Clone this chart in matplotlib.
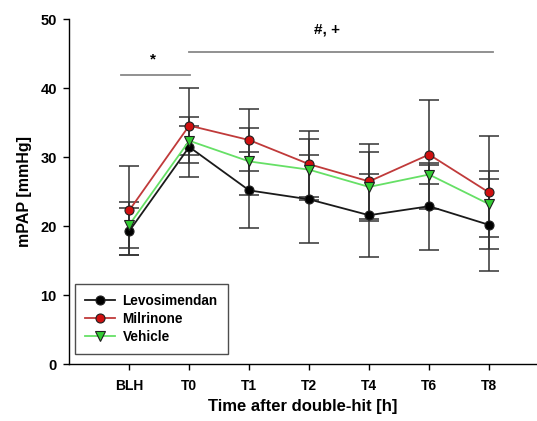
import matplotlib
matplotlib.use("Agg")
import matplotlib.pyplot as plt
import numpy as np

plt.rcParams['font.family'] = ['Liberation Sans', 'DejaVu Sans']

timepoints = ["BLH", "T0", "T1", "T2", "T4", "T6", "T8"]

levo_mean = [19.3, 31.5, 25.2, 23.9, 21.6, 22.9, 20.2]
levo_sd = [3.4, 4.3, 5.5, 6.4, 6.0, 6.3, 6.7]

milr_mean = [22.3, 34.6, 32.5, 29.0, 26.5, 30.4, 24.9]
milr_sd = [6.5, 5.4, 4.5, 4.8, 5.4, 7.9, 8.2]

veh_mean = [20.2, 32.4, 29.4, 28.2, 25.7, 27.5, 23.2]
veh_sd = [3.3, 2.1, 4.8, 4.4, 5.0, 1.4, 4.8]

fig = plt.figure(figsize=(5.37, 4.21), dpi=100)
ax = fig.add_axes([0.129, 0.135, 0.871, 0.819])

x = np.arange(len(timepoints))

series = [
    ("Levosimendan", levo_mean, levo_sd, "#1a1a1a", "o", "#000000"),
    ("Milrinone", milr_mean, milr_sd, "#c03a3a", "o", "#d01010"),
    ("Vehicle", veh_mean, veh_sd, "#66e066", "v", "#33cc33"),
]

for name, m, s, lc, mk, fc in series:
    ax.errorbar(x, m, yerr=s, fmt='none', ecolor='#333333', elinewidth=1.1,
                capsize=7, capthick=1.1, zorder=1)

for name, m, s, lc, mk, fc in series:
    ax.plot(x, m, color=lc, lw=1.3, marker=mk, markersize=6.5,
            markerfacecolor=fc, markeredgecolor='#202020', markeredgewidth=0.8,
            label=name, zorder=3)

# significance lines
ax.plot([-0.13, 1.01], [42.0, 42.0], color='#888888', lw=1.3, clip_on=False)
ax.text(0.4, 44.2, "*", ha='center', va='center', fontsize=11, fontweight='bold')
ax.plot([1.0, 6.07], [45.2, 45.2], color='#888888', lw=1.3, clip_on=False)
ax.text(3.29, 48.5, "#, +", ha='center', va='center', fontsize=11, fontweight='bold')

ax.set_xlim(-1, 6.8)
ax.set_ylim(0, 50)
ax.set_xticks(x)
ax.set_xticklabels(timepoints, fontweight='bold', fontsize=10)
ax.set_yticks([0, 10, 20, 30, 40, 50])
ax.set_yticklabels(["0", "10", "20", "30", "40", "50"], fontweight='bold', fontsize=10.5)
ax.tick_params(direction='out', length=4, width=1)
ax.tick_params(axis='y', pad=5)
ax.tick_params(axis='x', pad=7)

for sp in ['top', 'right']:
    ax.spines[sp].set_visible(False)
for sp in ['left', 'bottom']:
    ax.spines[sp].set_linewidth(1.0)

ax.set_xlabel("Time after double-hit [h]", fontweight='bold', fontsize=12, labelpad=4)
ax.set_ylabel("mPAP [mmHg]", fontweight='bold', fontsize=11.5, labelpad=6)

leg = ax.legend(loc='lower left', bbox_to_anchor=(0.012, 0.029), frameon=True, fancybox=False,
                edgecolor='#222222', prop={'weight': 'bold', 'size': 9.8},
                handlelength=2.2, borderpad=0.75, labelspacing=0.3, handletextpad=0.55,
                borderaxespad=0)
leg.get_frame().set_linewidth(1.0)

fig.savefig("out.png", dpi=100)
